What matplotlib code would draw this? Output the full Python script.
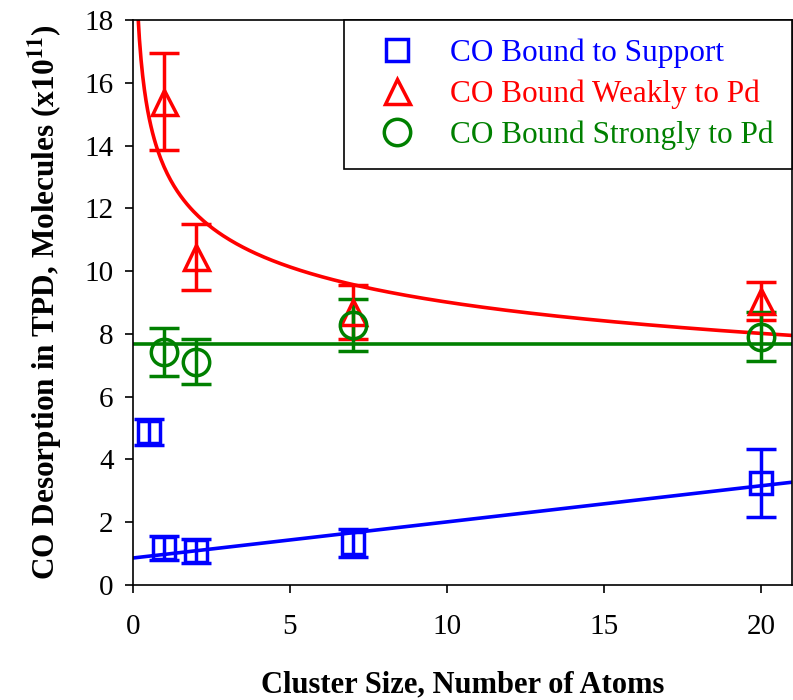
import matplotlib
matplotlib.use("Agg")
import matplotlib.pyplot as plt
from matplotlib.lines import Line2D
import numpy as np

x_support = [0.5, 1, 2, 7, 20]
y_support = [4.87, 1.18, 1.08, 1.34, 3.25]
err_support = [0.42, 0.38, 0.38, 0.45, 1.08]

x_weak = [1, 2, 7, 20]
y_weak = [15.4, 10.45, 8.7, 9.05]
err_weak = [1.55, 1.05, 0.86, 0.6]

x_strong = [1, 2, 7, 20]
y_strong = [7.43, 7.11, 8.28, 7.91]
err_strong = [0.76, 0.72, 0.83, 0.78]

# fitted curves shown in the figure
support_fit = (0.86, 0.115)      # intercept, slope
weak_fit = (13.3, -0.169)        # a * x**b
strong_fit = 7.67                # constant

labels = ["CO Bound to Support", "CO Bound Weakly to Pd", "CO Bound Strongly to Pd"]
colors = ["#0000ff", "#ff0000", "#008000"]
markers = ["s", "^", "o"]
msizes = [16, 18, 19]

plt.rcParams["font.family"] = ["Liberation Serif", "DejaVu Serif"]
plt.rcParams["mathtext.fontset"] = "stix"

fig = plt.figure(figsize=(7.93, 7.0), dpi=100)
ax = fig.add_axes([0.1677, 0.1643, 0.8313, 0.8071])

xs = np.linspace(0.1, 21, 400)
ax.plot(xs, weak_fit[0] * xs ** weak_fit[1], color=colors[1], lw=2.6)
ax.plot([0, 21], [strong_fit, strong_fit], color=colors[2], lw=2.6)
ax.plot([0, 21], [support_fit[0], support_fit[0] + support_fit[1] * 21], color=colors[0], lw=2.6)

common = dict(ls="none", mfc="none", mew=2.5, elinewidth=2.5, capsize=11, capthick=2.5)
ax.errorbar(x_weak, y_weak, yerr=err_weak, marker="^", ms=msizes[1], color=colors[1], **common)
ax.errorbar(x_strong, y_strong, yerr=err_strong, marker="o", ms=msizes[2], color=colors[2], **common)
ax.errorbar(x_support, y_support, yerr=err_support, marker="s", ms=msizes[0], color=colors[0], **common)

ax.set_xlim(0, 21)
ax.set_ylim(0, 18)
ax.set_xticks([0, 5, 10, 15, 20])
ax.set_yticks(range(0, 19, 2))
ax.tick_params(direction="out", length=6, width=1.2, labelsize=21, top=False, right=False)
ax.tick_params(axis="x", pad=15)
ax.tick_params(axis="y", pad=8)
for s in ax.spines.values():
    s.set_linewidth(1.2)

ax.set_xlabel("Cluster Size, Number of Atoms", fontsize=22, fontweight="bold", labelpad=22)
ax.set_ylabel(r"CO Desorption in TPD, Molecules (x10$^{\mathbf{11}}$)", fontsize=22.5,
              fontweight="bold", labelpad=14)

handles = [Line2D([], [], ls="none", marker=m, ms=s, mfc="none", mew=2.5, color=c)
           for m, s, c in zip(markers, msizes, colors)]
leg = ax.legend(handles, labels, loc="upper right", bbox_to_anchor=(1, 1), borderaxespad=0,
                fontsize=22.5, frameon=True, fancybox=False, framealpha=1, edgecolor="black",
                handlelength=2.2, handletextpad=0.6, borderpad=0.6, labelspacing=0.37)
leg.get_frame().set_linewidth(1.2)
for t, c in zip(leg.get_texts(), colors):
    t.set_color(c)

fig.savefig("out.png", dpi=100)
